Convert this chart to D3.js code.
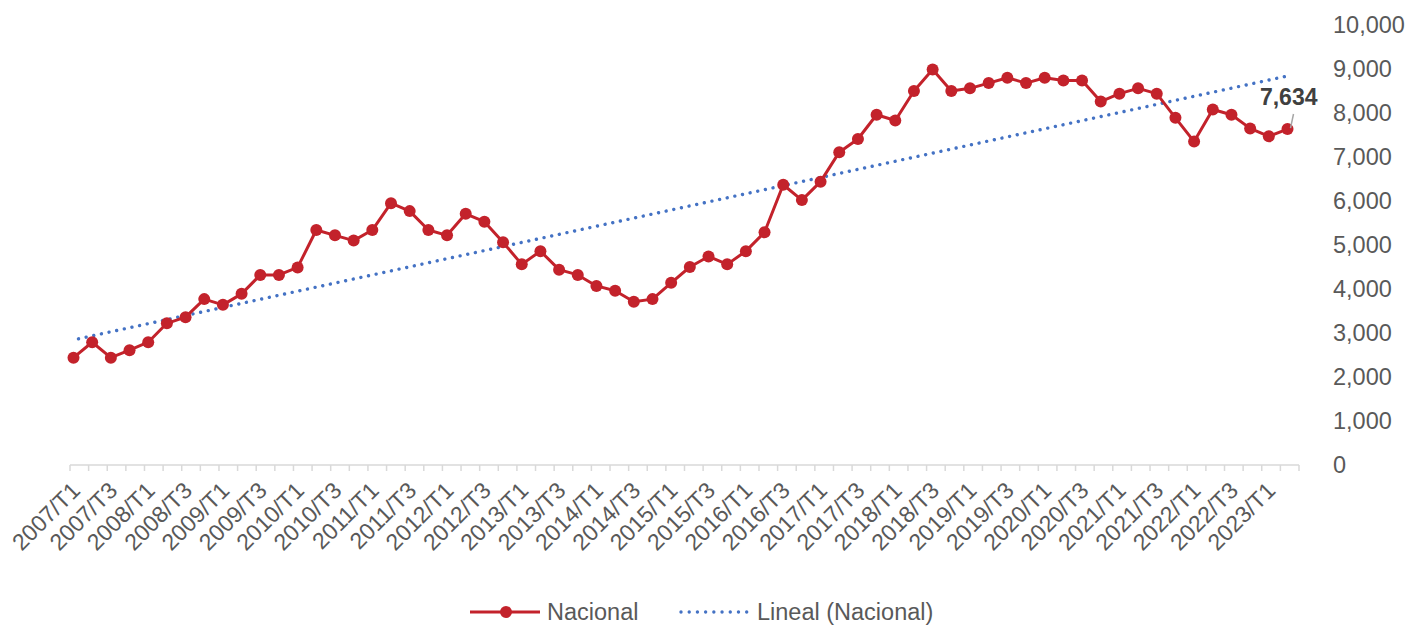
<!DOCTYPE html>
<html>
<head>
<meta charset="utf-8">
<script src="https://cdn.jsdelivr.net/npm/d3@7/dist/d3.min.js"></script>
<style>
  body { margin: 0; background: #fff; }
  svg { display: block; font-family: "Liberation Sans", Arial, sans-serif; }
</style>
</head>
<body>
<div id="chart"></div>
<script>
// quarters 2007/T1 .. 2023/T2
var years = d3.range(2007, 2024);
var quarters = [];
years.forEach(function (y) {
  ['T1', 'T2', 'T3', 'T4'].forEach(function (q) {
    if (y === 2023 && (q === 'T3' || q === 'T4')) return;
    quarters.push(y + '/' + q);
  });
});

var nacional = [
  2440, 2790, 2440, 2610,
  2790, 3220, 3360, 3770,
  3640, 3890, 4320, 4320,
  4490, 5340, 5220, 5100,
  5340, 5950, 5770, 5340,
  5220, 5710, 5530, 5060,
  4560, 4860, 4440, 4320,
  4070, 3960, 3710, 3770,
  4140, 4500, 4740, 4560,
  4860, 5290, 6370, 6020,
  6440, 7110, 7410, 7960,
  7830, 8500, 8990, 8500,
  8560, 8680, 8800, 8680,
  8800, 8740, 8740, 8260,
  8440, 8560, 8440, 7890,
  7350, 8080, 7960, 7650,
  7470, 7634
];

// linear trend (Lineal) values at first and last quarter
var trendEnds = [2840, 8840];

var yTicks = [0, 1000, 2000, 3000, 4000, 5000, 6000, 7000, 8000, 9000, 10000];
var legendLabels = ['Nacional', 'Lineal (Nacional)'];

var width = 1410, height = 625;
var red = '#c3222b', blue = '#4472c4', grey = '#595959';

var svg = d3.select('#chart').append('svg')
  .attr('width', width)
  .attr('height', height);

// band scale for the tick marks, point scale for the marks
var xBand = d3.scaleBand().domain(quarters).range([70, 1299]);
var x = d3.scalePoint().domain(quarters).range([73.5, 1287.5]);
var y = d3.scaleLinear().domain([0, 10000]).range([465, 25]);

// x axis line + ticks
var xAxis = svg.append('g');
xAxis.append('line')
  .attr('x1', 70).attr('x2', 1299)
  .attr('y1', y(0)).attr('y2', y(0))
  .attr('stroke', '#d9d9d9').attr('stroke-width', 1.5);
xAxis.selectAll('line.tick')
  .data(quarters.concat(['end']))
  .enter().append('line')
  .attr('class', 'tick')
  .attr('x1', function (d, i) { return 70 + i * xBand.step(); })
  .attr('x2', function (d, i) { return 70 + i * xBand.step(); })
  .attr('y1', y(0)).attr('y2', y(0) + 6)
  .attr('stroke', '#d9d9d9').attr('stroke-width', 1.5);

xAxis.selectAll('text')
  .data(quarters.filter(function (d, i) { return i % 2 === 0; }))
  .enter().append('text')
  .attr('transform', function (d) {
    return 'translate(' + (x(d) + 8) + ',492) rotate(-45)';
  })
  .attr('text-anchor', 'end')
  .attr('fill', grey)
  .style('font-size', '23px')
  .text(function (d) { return d; });

// y axis labels on the right
svg.append('g').selectAll('text')
  .data(yTicks)
  .enter().append('text')
  .attr('x', 1333)
  .attr('y', function (d) { return y(d); })
  .attr('dy', '0.36em')
  .attr('fill', grey)
  .style('font-size', '23.5px')
  .text(function (d) { return d3.format(',')(d); });

// linear trend
var n = quarters.length;
var trend = d3.scaleLinear().domain([0, n - 1]).range(trendEnds);
svg.append('line')
  .attr('x1', x(quarters[0]) + 5).attr('y1', y(trend(0.3)))
  .attr('x2', x(quarters[n - 1]) - 3).attr('y2', y(trend(n - 1.15)))
  .attr('stroke', blue)
  .attr('stroke-width', 3.4)
  .attr('stroke-linecap', 'round')
  .attr('stroke-dasharray', '0.01 7.8');

// series
var line = d3.line()
  .x(function (d, i) { return x(quarters[i]); })
  .y(function (d) { return y(d); });

svg.append('path')
  .datum(nacional)
  .attr('d', line)
  .attr('fill', 'none')
  .attr('stroke', red)
  .attr('stroke-width', 3)
  .attr('stroke-linejoin', 'round');

svg.append('g').selectAll('circle')
  .data(nacional)
  .enter().append('circle')
  .attr('cx', function (d, i) { return x(quarters[i]); })
  .attr('cy', function (d) { return y(d); })
  .attr('r', 6)
  .attr('fill', red);

// last value label
var last = quarters[n - 1];
var lastVal = nacional[nacional.length - 1];
svg.append('line')
  .attr('x1', x(last) + 6).attr('y1', 114)
  .attr('x2', x(last) + 3).attr('y2', y(lastVal) - 1)
  .attr('stroke', '#a6a6a6').attr('stroke-width', 1.5);
svg.append('text')
  .attr('x', x(last) + 30)
  .attr('y', 105)
  .attr('text-anchor', 'end')
  .attr('fill', '#404040')
  .style('font-size', '23px')
  .style('font-weight', 'bold')
  .text(d3.format(',')(lastVal));

// legend
var leg = svg.append('g');
leg.append('line')
  .attr('x1', 470).attr('x2', 540).attr('y1', 612).attr('y2', 612)
  .attr('stroke', red).attr('stroke-width', 3);
leg.append('circle')
  .attr('cx', 506).attr('cy', 612).attr('r', 6).attr('fill', red);
leg.append('text')
  .attr('x', 547).attr('y', 612).attr('dy', '0.36em')
  .attr('fill', grey).style('font-size', '23.5px')
  .text(legendLabels[0]);
leg.append('line')
  .attr('x1', 681).attr('x2', 747).attr('y1', 612).attr('y2', 612)
  .attr('stroke', blue).attr('stroke-width', 3.4)
  .attr('stroke-linecap', 'round')
  .attr('stroke-dasharray', '0.01 8.2');
leg.append('text')
  .attr('x', 757).attr('y', 612).attr('dy', '0.36em')
  .attr('fill', grey).style('font-size', '23.5px')
  .text(legendLabels[1]);
</script>
</body>
</html>
